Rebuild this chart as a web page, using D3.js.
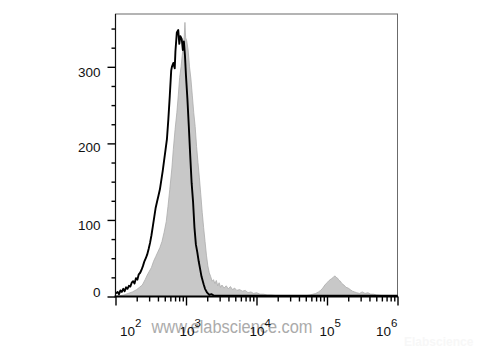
<!DOCTYPE html>
<html>
<head>
<meta charset="utf-8">
<script src="https://cdn.jsdelivr.net/npm/d3@7/dist/d3.min.js"></script>
<style>
  html, body { margin: 0; padding: 0; background: #fff; }
  svg { display: block; font-family: "Liberation Sans", Arial, sans-serif; }
</style>
</head>
<body>
<svg id="chart" width="480" height="360"></svg>
<script>
// flow histogram — isotype (black line) vs stained sample (grey fill), log x axis

// ---- data (x as log10 of fluorescence, y as event count) ----
const blackExp = [2.00, 2.03, 2.05, 2.07, 2.09, 2.11, 2.13, 2.15, 2.17, 2.19, 2.21, 2.23, 2.25, 2.27, 2.29, 2.31,
  2.33, 2.35, 2.37, 2.39, 2.41, 2.43, 2.45, 2.47, 2.49, 2.51, 2.53, 2.55, 2.57, 2.59, 2.61, 2.63, 2.65, 2.67,
  2.69, 2.71, 2.73, 2.75, 2.77, 2.79, 2.80, 2.82, 2.84, 2.85, 2.87, 2.89, 2.905, 2.92, 2.94, 2.955, 2.97, 2.985,
  3.00, 3.02, 3.04, 3.06, 3.08, 3.10, 3.12, 3.14, 3.16, 3.18, 3.20, 3.22, 3.25, 3.27, 3.30, 3.33, 3.36, 3.40,
  3.60, 4.00, 4.50, 5.00, 5.50, 6.00];
const blackCount = [4, 6, 3, 8, 6, 10, 7, 12, 10, 14, 13, 18, 20, 17, 24, 22,
  29, 31, 35, 40, 46, 50, 55, 62, 70, 80, 92, 104, 116, 124, 132, 140, 152, 164,
  178, 192, 206, 232, 262, 295, 300, 305, 298, 320, 345, 348, 330, 340, 336, 322, 333, 315,
  288, 258, 222, 184, 148, 124, 90, 68, 58, 46, 36, 26, 16, 10, 5, 2, 3, 1,
  1, 1, 1, 1, 1, 1];

const greyExp = [2.00, 2.06, 2.12, 2.18, 2.24, 2.30, 2.34, 2.38, 2.42, 2.45, 2.48, 2.51, 2.54, 2.57, 2.60, 2.63,
  2.66, 2.69, 2.72, 2.745, 2.77, 2.80, 2.82, 2.845, 2.87, 2.89, 2.91, 2.93, 2.95, 2.965, 2.975, 2.985, 2.995,
  3.01, 3.03, 3.05, 3.07, 3.09, 3.11, 3.13, 3.15, 3.17, 3.19, 3.21, 3.23, 3.25, 3.27, 3.29, 3.31, 3.33, 3.35,
  3.37, 3.39, 3.41, 3.43, 3.45, 3.47, 3.49, 3.51, 3.54, 3.57, 3.60, 3.63, 3.66, 3.69, 3.72, 3.76, 3.80, 3.84,
  3.88, 3.92, 3.96, 4.00, 4.05, 4.10, 4.15, 4.20, 4.30, 4.40, 4.50, 4.60, 4.70, 4.76, 4.80, 4.84, 4.88, 4.91,
  4.94, 4.97, 5.00, 5.03, 5.06, 5.09, 5.11, 5.13, 5.15, 5.17, 5.19, 5.21, 5.24, 5.27, 5.30, 5.33, 5.36, 5.39,
  5.42, 5.46, 5.50, 5.54, 5.58, 5.62, 5.66, 5.70, 5.80, 5.90, 6.00];
const greyCount = [0, 1, 2, 4, 6, 9, 12, 15, 22, 28, 33, 38, 46, 52, 58, 64,
  72, 84, 98, 118, 140, 168, 192, 218, 240, 262, 286, 300, 318, 330, 340, 358, 338,
  334, 322, 300, 284, 262, 240, 222, 196, 175, 155, 133, 110, 90, 72, 54, 40, 31, 26,
  20, 22, 17, 21, 14, 18, 12, 15, 11, 14, 10, 13, 9, 11, 8, 9, 7, 8,
  5, 6, 4, 5, 3, 3, 2, 2, 1, 1, 0.5, 0.5, 1, 2, 3, 4, 6, 8,
  11, 15, 18, 21, 23, 25, 27, 25, 24, 21, 20, 17, 15, 12, 11, 9, 7, 6,
  5, 4, 6, 4, 5, 3, 3, 2, 1, 0.5, 0];

const yMajor = [0, 100, 200, 300];
const yMinor = [25, 50, 75, 125, 150, 175, 225, 250, 275, 325, 350];
const xDecades = [2, 3, 4, 5, 6];
const watermark = "www.elabscience.com";

// ---- layout ----
const svg = d3.select("#chart");
const plotL = 115.5, plotR = 397.5, plotT = 14, plotB = 296.5;

const x = d3.scaleLog().domain([1e2, 1e6]).range([plotL, plotR]);
const y = d3.scaleLinear().domain([0, 369]).range([plotB, plotT]);

const greyPts = greyExp.map((e, i) => [Math.pow(10, e), greyCount[i]]);
const blackPts = blackExp.map((e, i) => [Math.pow(10, e), blackCount[i]]);

// watermark sits behind everything
svg.append("text")
  .attr("x", 151.5).attr("y", 332.5)
  .attr("font-size", 18)
  .attr("textLength", 161)
  .attr("lengthAdjust", "spacingAndGlyphs")
  .attr("fill", "#ababab")
  .text(watermark);

// frame
svg.append("rect")
  .attr("x", plotL).attr("y", plotT)
  .attr("width", plotR - plotL).attr("height", plotB - plotT)
  .attr("fill", "none").attr("stroke", "#6b6b6b").attr("stroke-width", 1);

// grey filled histogram
svg.append("path")
  .datum(greyPts)
  .attr("d", d3.area().x((d) => x(d[0])).y0(y(0)).y1((d) => y(d[1])))
  .attr("fill", "#c8c8c8")
  .attr("stroke", "#acacac")
  .attr("stroke-width", 0.8);

// black isotype line
svg.append("path")
  .datum(blackPts)
  .attr("d", d3.line().x((d) => x(d[0])).y((d) => y(d[1])))
  .attr("fill", "none")
  .attr("stroke", "#000")
  .attr("stroke-width", 1.9)
  .attr("stroke-linejoin", "round");

// ---- y axis ----
const yAxisG = svg.append("g").attr("transform", `translate(${plotL},0)`);
yAxisG.call(d3.axisLeft(y).tickValues(yMinor).tickSize(4).tickFormat(""));
yAxisG.append("g").call(d3.axisLeft(y).tickValues(yMajor).tickSize(8).tickFormat(""));
yAxisG.selectAll(".domain").remove();
yAxisG.selectAll("line").attr("stroke", "#000").attr("stroke-width", 1.4);
svg.append("line")
  .attr("x1", plotL).attr("x2", plotL).attr("y1", plotT).attr("y2", plotB)
  .attr("stroke", "#111").attr("stroke-width", 1.2);

// labels sit a little off their ticks, as in the source export
const yLabelShift = { 0: -4, 100: 5, 200: 4, 300: 5 };
svg.append("g").selectAll("text")
  .data(yMajor)
  .join("text")
  .attr("x", 100.5)
  .attr("y", (d) => y(d) + yLabelShift[d])
  .attr("dy", "0.35em")
  .attr("text-anchor", "end")
  .attr("font-size", 13.5)
  .attr("fill", "#111")
  .text((d) => d);

// ---- x axis ----
const xMinor = [];
for (const dec of xDecades.slice(0, -1)) {
  for (let m = 2; m <= 9; m++) xMinor.push(m * Math.pow(10, dec));
}
const xAxisG = svg.append("g").attr("transform", `translate(0,${plotB})`);
xAxisG.call(d3.axisBottom(x).tickValues(xMinor).tickSize(5).tickFormat(""));
xAxisG.append("g").call(d3.axisBottom(x).tickValues(xDecades.map((d) => Math.pow(10, d))).tickSize(9).tickFormat(""));
xAxisG.selectAll(".domain").remove();
xAxisG.selectAll("line").attr("stroke", "#000").attr("stroke-width", 1.4);
svg.append("line")
  .attr("x1", plotL - 1).attr("x2", plotR + 0.5).attr("y1", plotB).attr("y2", plotB)
  .attr("stroke", "#000").attr("stroke-width", 2.2);

const xLabelShift = { 2: 12, 3: 1, 4: 0.5, 5: 0, 6: -14 };
const xl = svg.append("g").selectAll("text")
  .data(xDecades)
  .join("text")
  .attr("x", (d) => x(Math.pow(10, d)) + xLabelShift[d] - 7.5)
  .attr("y", 335.5)
  .attr("font-size", 13.5)
  .attr("fill", "#111");
xl.append("tspan").text("10");
xl.append("tspan").attr("dy", -9).attr("font-size", 11.5).text((d) => d);

// faint corner mark
svg.append("text")
  .attr("x", 404).attr("y", 346)
  .attr("font-size", 12).attr("font-weight", "bold")
  .attr("fill", "#f7f7f7")
  .text("Elabscience");
</script>
</body>
</html>
